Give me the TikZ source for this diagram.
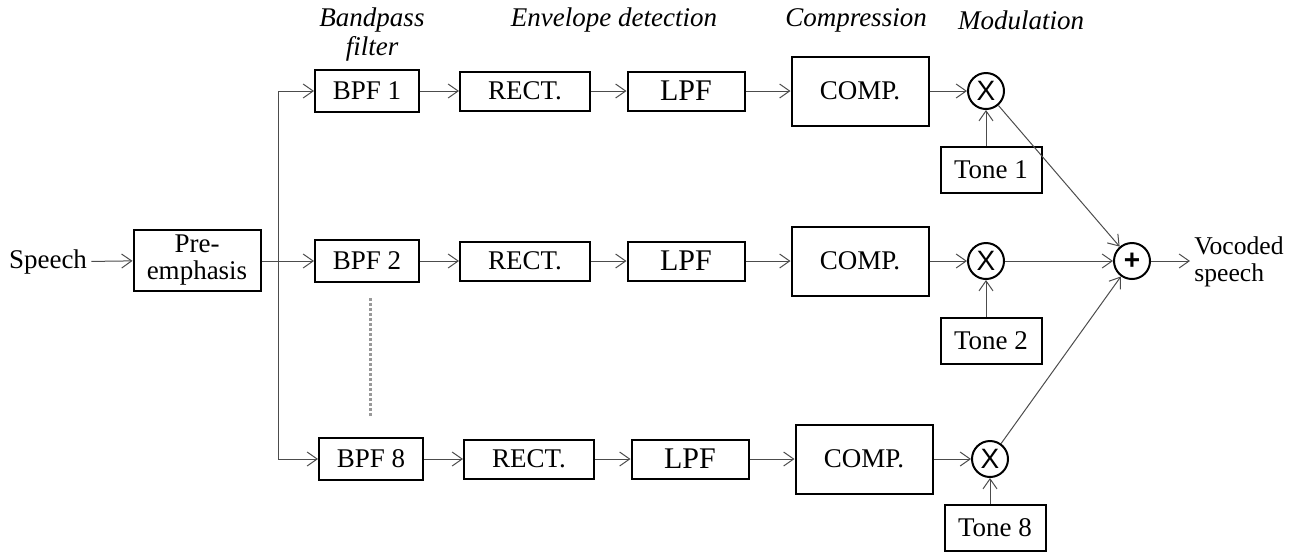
\documentclass[tikz,border=0pt]{standalone}
\usepackage{fontspec}
\setmainfont{Liberation Serif}
\newfontfamily\opfont{Liberation Sans}
\usetikzlibrary{arrows.meta}

\tikzset{
	wire/.style={draw=black!70, line width=0.5pt},
	arr/.style={wire, -{Straight Barb[length=5pt,width=7pt]}},
	blk/.style={draw=black, line width=1pt, inner sep=0pt, align=center},
	bpfbox/.style={blk, minimum width=52pt, minimum height=21pt},
	rectbox/.style={blk, minimum width=65pt, minimum height=19.5pt},
	lpfbox/.style={blk, minimum width=58.5pt, minimum height=19.5pt, font=\fontsize{15}{15}\selectfont},
	compbox/.style={blk, minimum width=68.5pt, minimum height=34.5pt},
	tonebox/.style={blk, minimum width=50.5pt, minimum height=23pt},
	op/.style={draw=black, line width=1pt, circle, minimum size=18pt, inner sep=0pt, font=\opfont\fontsize{14}{14}\selectfont},
	head/.style={font=\itshape\fontsize{13.5}{14.5}\selectfont, align=center}
}

\begin{document}
\begin{tikzpicture}[x=0.5pt, y=-0.5pt, font=\fontsize{13.5}{13.5}\selectfont]
	\useasboundingbox (0,0) rectangle (1290,554);

	% stage titles
	\node[head] (hbpf) at (372,34) {Bandpass\\filter};
	\node[head] (henv) at (614,20) {Envelope detection};
	\node[head] (hcomp) at (856,20) {Compression};
	\node[head] (hmod) at (1021,20) {Modulation};

	% input side
	\node[inner sep=2pt] (in) at (48,262) {Speech};
	\node[blk, minimum width=63.5pt, minimum height=30.5pt] (pre) at (197,260) {Pre-\\emphasis};
	\draw[arr] (in) -- (pre);

	% channels
	\foreach \n/\y/\d/\t in {1/91/0/170, 2/261/0/341, 8/459/4/528}{
		\node[bpfbox] (bpf\n) at (367+\d,\y) {BPF \n};
		\node[rectbox] (rect\n) at (525+\d,\y) {RECT.};
		\node[lpfbox] (lpf\n) at (686+\d,\y) {LPF};
		\node[compbox] (comp\n) at (860+\d,\y) {COMP.};
		\node[op] (mul\n) at (986+\d,\y) {X};
		\node[tonebox] (tone\n) at (991+\d,\t) {Tone \n};
		\draw[arr] (bpf\n) -- (rect\n);
		\draw[arr] (rect\n) -- (lpf\n);
		\draw[arr] (lpf\n) -- (comp\n);
		\draw[arr] (comp\n) -- (mul\n);
		\draw[arr] (mul\n |- tone\n.north) -- (mul\n);
	}

	% splitter
	\coordinate (bus1) at (278,91);
	\coordinate (bus8) at (278,459);
	\draw[wire] (bus1) -- (bus8);
	\draw[arr] (bus1) -- (bpf1);
	\draw[arr] (pre.east |- bpf2.west) -- (bpf2);
	\draw[arr] (bus8) -- (bpf8);
	\draw[black!40, line width=1.5pt, dash pattern=on 1.5pt off 1pt] (370,298) -- (370,418);

	% summing and output
	\node[op] (add) at (1132,261) {\textbf{+}};
	\node[anchor=west, align=left, inner sep=0pt, font=\fontsize{12.8}{13.5}\selectfont] (out) at (1194,262) {Vocoded\\speech};
	\draw[arr] (mul1) -- (add);
	\draw[arr] (mul2) -- (add);
	\draw[arr] (mul8) -- (add);
	\draw[arr] (add) -- (1190,261);
\end{tikzpicture}
\end{document}
